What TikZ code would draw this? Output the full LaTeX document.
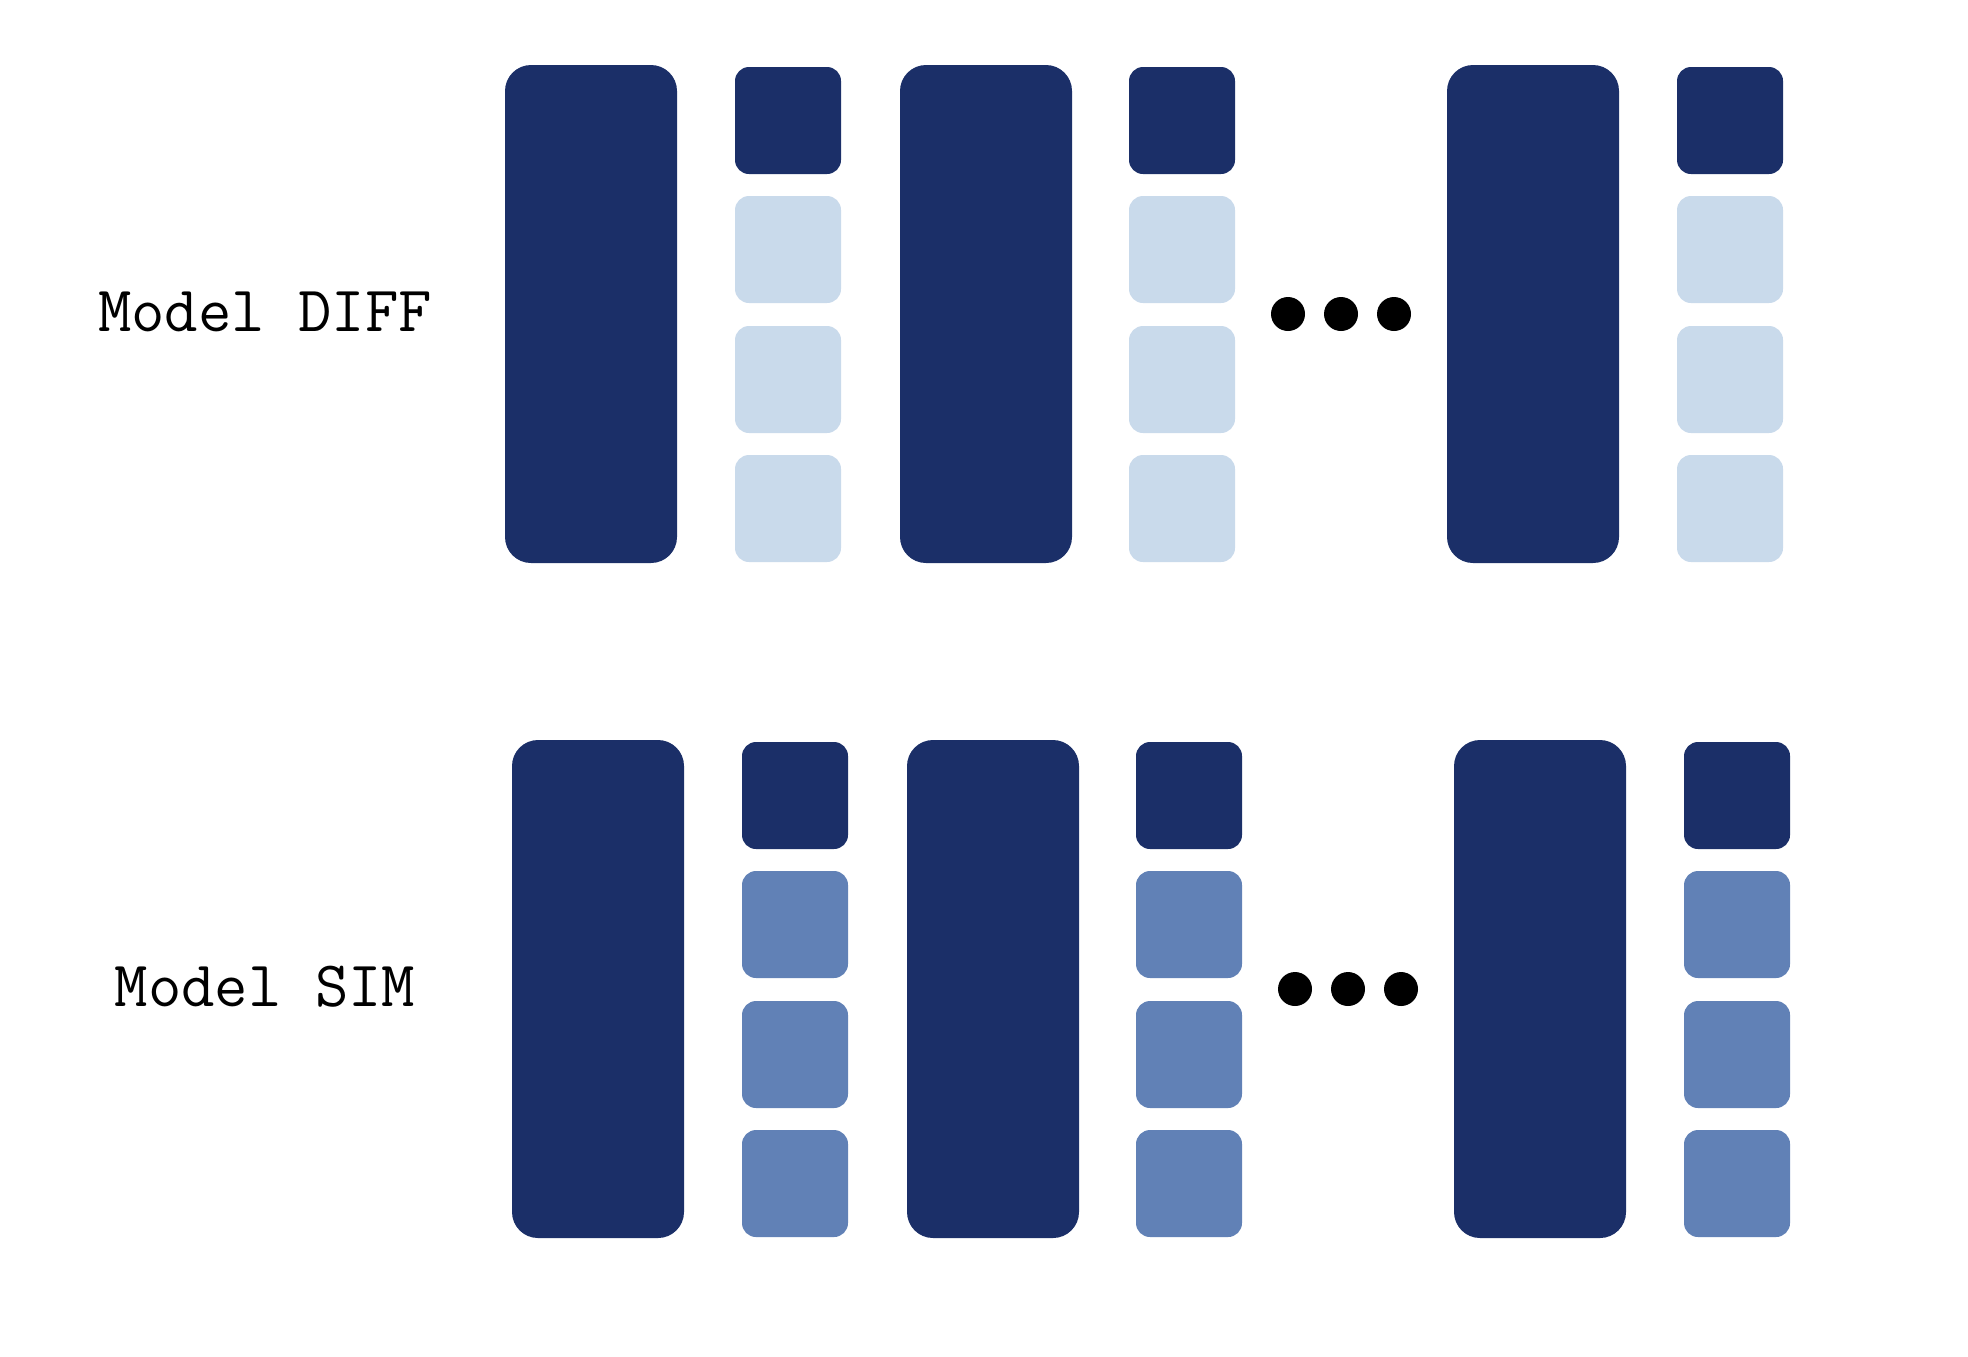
\documentclass[tikz,border=0pt]{standalone}
\usepackage{fontspec}
\definecolor{navy}{RGB}{27,47,104}
\definecolor{lightc}{RGB}{201,218,235}
\definecolor{midc}{RGB}{97,129,182}
\begin{document}
\begin{tikzpicture}[x=0.5pt,y=-0.5pt,
  bigbar/.style={rectangle,inner sep=0pt,outer sep=0pt,anchor=north west,
    minimum width=86pt,minimum height=249pt,rounded corners=13pt,fill=navy},
  cell/.style={rectangle,inner sep=0pt,outer sep=0pt,anchor=north west,
    minimum width=53pt,minimum height=53.5pt,rounded corners=7pt},
  dotc/.style={circle,inner sep=0pt,minimum size=17pt,fill=black},
  lbl/.style={font=\ttfamily\fontsize{32.4}{36}\selectfont,inner sep=0pt}]
\useasboundingbox (0,0) rectangle (1968,1356);
\foreach \r/\dx/\dy/\col/\txt in {1/0/0/lightc/{Model DIFF},2/7/675/midc/{Model SIM}}{
  \node[lbl] (lbl\r) at (265,312+\dy) {\txt};
  \foreach \b/\bx in {1/505,2/900,3/1447}{
    \node[bigbar] (bar\r-\b) at (\bx+\dx,65+\dy) {};
  }
  \foreach \c/\cx in {1/735,2/1129,3/1677}{
    \node[cell,fill=navy] (cell\r-\c-1) at (\cx+\dx,67+\dy) {};
    \foreach \k/\ky in {2/196,3/326,4/455}{
      \node[cell,fill=\col] (cell\r-\c-\k) at (\cx+\dx,\ky+\dy) {};
    }
  }
  \foreach \d/\ddx in {1/1288,2/1341,3/1394}{
    \node[dotc] (dot\r-\d) at (\ddx+\dx,314+\dy) {};
  }
}
\end{tikzpicture}
\end{document}
